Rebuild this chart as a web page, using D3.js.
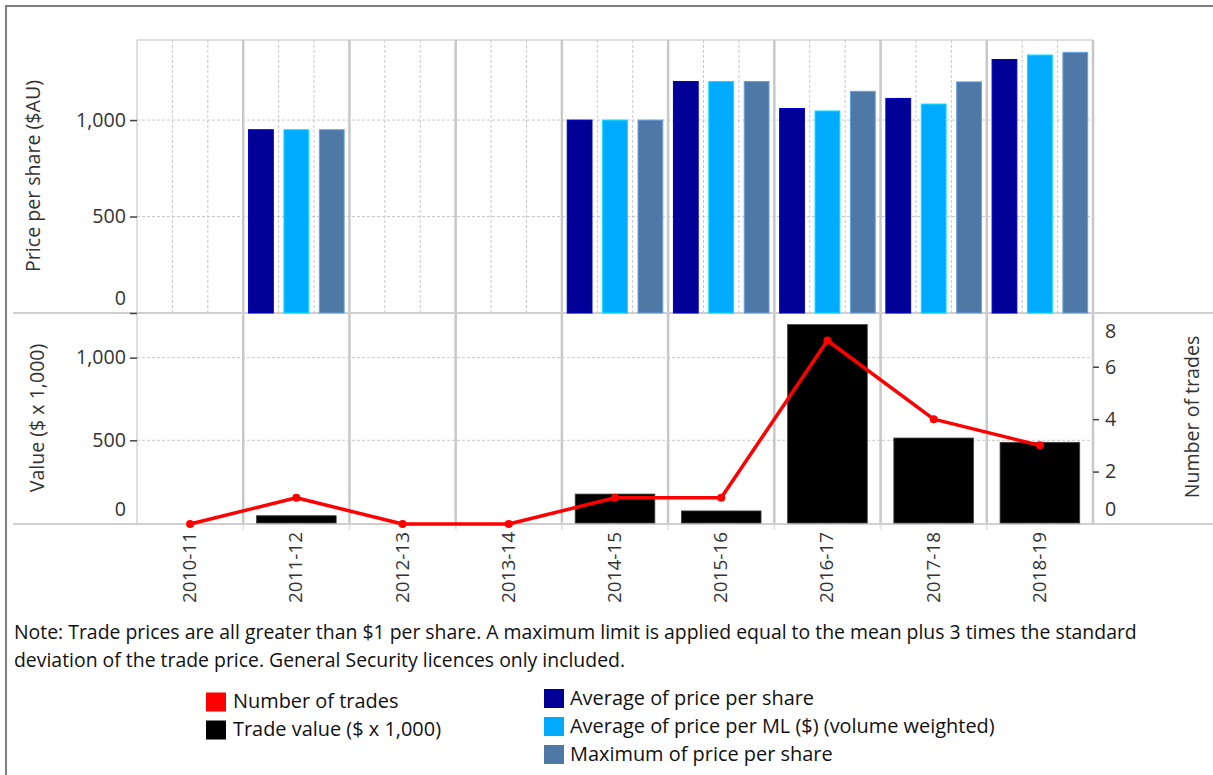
<!DOCTYPE html>
<html><head><meta charset="utf-8">
<script src="https://cdn.jsdelivr.net/npm/d3@7"></script>
<style>body{margin:0;background:#fff}svg{display:block;font-family:"Open Sans",Lato,sans-serif}</style>
</head><body><svg id="c" width="1213" height="775"></svg>
<script>
const years = ["2010-11","2011-12","2012-13","2013-14","2014-15","2015-16","2016-17","2017-18","2018-19"];
const priceSeries = ["Average of price per share","Average of price per ML ($) (volume weighted)","Maximum of price per share"];
const avgPrice    = [null, 950, null, null, 1000, 1200, 1060, 1112, 1314];
const avgPriceML  = [null, 950, null, null, 1000, 1200, 1047, 1083, 1337];
const maxPrice    = [null, 950, null, null, 1000, 1200, 1149, 1198, 1351];
const tradeValue  = [0, 44, 0, 0, 175, 73, 1200, 514, 488];
const numTrades   = [0, 1, 0, 0, 1, 1, 7, 4, 3];
const priceTicks = [0, 500, 1000];
const valueTicks = [0, 500, 1000];
const tradeTicks = [0, 2, 4, 6, 8];
const priceColors = ["#000096", "#00AAFF", "#4E79A7"];
const lineColor = "#FF0000";
const barColor = "#000000";
const legendLeft = [{label:"Number of trades", color:lineColor},{label:"Trade value ($ x 1,000)", color:barColor}];
const noteLines = ["Note: Trade prices are all greater than $1 per share. A maximum limit is applied equal to the mean plus 3 times the standard",
                   "deviation of the trade price. General Security licences only included."];

const svg = d3.select("#c");
const L = 137, R = 1093, T1 = 40, B1 = 313, B2 = 524;
const grid = "#c8c8c8", txt = "#333";

// font size fitting helper: size such that sample string spans target width
function fitSize(sample, target){
  const t = svg.append("text").style("font-size","20px").text(sample);
  const w = t.node().getComputedTextLength(); t.remove();
  return 20 * target / w;
}
const fsNote = fitSize(noteLines[0], 1123);
const fsLegend = fitSize(priceSeries[1], 425);
const fsTitle = fitSize("Price per share ($AU)", 192);
const fsTick = fitSize("1,000", 50);
const fsX = fitSize("2010-11", 71);

// frame
svg.append("line").attr("x1",5).attr("x2",1213).attr("y1",6).attr("y2",6).attr("stroke","#808080").attr("stroke-width",2);
svg.append("line").attr("x1",6).attr("x2",6).attr("y1",5).attr("y2",775).attr("stroke","#808080").attr("stroke-width",2);

const x = d3.scaleBand().domain(years).range([L, R]);
const sub = d3.scaleBand().domain(priceSeries).range([0, x.bandwidth()]).paddingInner(0.3).paddingOuter(0.15);
const yP = d3.scaleLinear().domain([0, 1415]).range([B1, T1]);
const yV = d3.scaleLinear().domain([0, 1270]).range([523, B1]);
const yN = d3.scaleLinear().domain([0, 8.05]).range([B2, B1]);

// ---- top panel grid
const g1 = svg.append("g");
years.forEach(yr => {
  [1,2].forEach(k => g1.append("line").attr("x1", x(yr)+k*x.bandwidth()/3).attr("x2", x(yr)+k*x.bandwidth()/3)
    .attr("y1", T1).attr("y2", B1).attr("stroke", grid).attr("stroke-dasharray","3,2").attr("stroke-width",1));
});
priceTicks.filter(t=>t>0).forEach(t => g1.append("line").attr("x1",L).attr("x2",R).attr("y1",yP(t)).attr("y2",yP(t))
  .attr("stroke",grid).attr("stroke-dasharray","3,2"));
g1.append("line").attr("x1",L).attr("x2",R).attr("y1",T1).attr("y2",T1).attr("stroke","#d4d4d4").attr("stroke-width",1.5);
g1.append("line").attr("x1",L).attr("x2",L).attr("y1",T1).attr("y2",B2).attr("stroke","#d4d4d4").attr("stroke-width",1.5);
years.slice(1).forEach(yr => {
  svg.append("line").attr("x1",x(yr)).attr("x2",x(yr)).attr("y1",T1).attr("y2",B2)
    .attr("stroke",grid).attr("stroke-width",2.5);
  svg.append("line").attr("x1",x(yr)).attr("x2",x(yr)).attr("y1",B2).attr("y2",B2+6)
    .attr("stroke","#e6e6e6").attr("stroke-width",2);
});
svg.append("line").attr("x1",R).attr("x2",R).attr("y1",T1).attr("y2",B2).attr("stroke",grid).attr("stroke-width",2.5);

// bottom panel grid
valueTicks.filter(t=>t>0).forEach(t => svg.append("line").attr("x1",L).attr("x2",R).attr("y1",yV(t)).attr("y2",yV(t))
  .attr("stroke",grid).attr("stroke-dasharray","3,2"));

// separators
svg.append("line").attr("x1",13).attr("x2",1213).attr("y1",B1).attr("y2",B1).attr("stroke","#cfcfcf").attr("stroke-width",2);
svg.append("line").attr("x1",13).attr("x2",1213).attr("y1",B2).attr("y2",B2).attr("stroke","#cfcfcf").attr("stroke-width",2);

// price bars
const priceData = [avgPrice, avgPriceML, maxPrice];
priceData.forEach((arr, si) => {
  svg.append("g").selectAll("rect").data(years.map((yr,i)=>({yr, v:arr[i]})).filter(d=>d.v!=null)).join("rect")
    .attr("x", d => x(d.yr) + sub(priceSeries[si]))
    .attr("width", sub.bandwidth())
    .attr("y", d => yP(d.v))
    .attr("height", d => yP(0) - yP(d.v))
    .attr("fill", priceColors[si])
    .attr("stroke", d3.color(priceColors[si]).brighter(0.8)).attr("stroke-width",1);
});

// trade value bars
const bw2 = x.bandwidth()*0.75;
svg.append("g").selectAll("rect").data(years.map((yr,i)=>({yr, v:tradeValue[i]})).filter(d=>d.v>0)).join("rect")
  .attr("x", d => x(d.yr) + (x.bandwidth()-bw2)/2)
  .attr("width", bw2)
  .attr("y", d => yV(d.v))
  .attr("height", d => yV(0) - yV(d.v))
  .attr("fill", barColor).attr("stroke","#444").attr("stroke-width",0.8);

// number of trades line
const pts = years.map((yr,i)=>({yr, v:numTrades[i]}));
svg.append("path").datum(pts)
  .attr("d", d3.line().x(d=>x(d.yr)+x.bandwidth()/2).y(d=>yN(d.v)))
  .attr("fill","none").attr("stroke",lineColor).attr("stroke-width",3.5).attr("stroke-linejoin","round");
svg.append("g").selectAll("circle").data(pts).join("circle")
  .attr("cx", d=>x(d.yr)+x.bandwidth()/2).attr("cy", d=>yN(d.v)).attr("r",4).attr("fill",lineColor);

// axes
function styleAxis(g, shifts){
  g.select(".domain").remove();
  g.selectAll(".tick line").attr("stroke","#444").attr("stroke-width",1.5);
  g.selectAll(".tick text").attr("fill",txt).style("font-size",fsTick+"px").style("font-family","Open Sans");
  g.selectAll(".tick").each(function(d){ if (shifts[d]!==undefined) d3.select(this).select("text").attr("dy", shifts[d]); });
}
const fmt = d3.format(",");
svg.append("g").attr("transform",`translate(${L},0)`)
  .call(d3.axisLeft(yP).tickValues(priceTicks).tickFormat(fmt).tickSize(7).tickPadding(4))
  .call(g=>styleAxis(g,{0:"-0.45em"}));
svg.append("g").attr("transform",`translate(${L},0)`)
  .call(d3.axisLeft(yV).tickValues(valueTicks).tickFormat(fmt).tickSize(7).tickPadding(4))
  .call(g=>styleAxis(g,{0:"-0.4em"}))
  .call(g=>g.selectAll(".tick").filter(d=>d===0).select("line").remove());
svg.append("g").attr("transform",`translate(${R},0)`)
  .call(d3.axisRight(yN).tickValues(tradeTicks).tickFormat(d3.format("d")).tickSize(6).tickPadding(6))
  .call(g=>styleAxis(g,{0:"-0.45em",8:"1.2em"}))
  .call(g=>g.selectAll(".tick").filter(d=>d===0||d===8).select("line").remove());

// x labels
svg.append("g").selectAll("text").data(years).join("text")
  .attr("transform", d => `translate(${x(d)+x.bandwidth()/2+6},${B2+8}) rotate(-90)`)
  .attr("text-anchor","end").attr("fill",txt).style("font-size",fsX+"px").text(d=>d);

// axis titles
function vtitle(t, cx, cy){
  svg.append("text").attr("transform",`translate(${cx},${cy}) rotate(-90)`).attr("text-anchor","middle")
    .attr("fill",txt).style("font-size",fsTitle+"px").text(t);
}
vtitle("Price per share ($AU)", 40, 176);
vtitle("Value ($ x 1,000)", 44, 418);
vtitle("Number of trades", 1199, 417);

// note
const note = svg.append("text").attr("fill","#111").style("font-size",fsNote+"px");
noteLines.forEach((t,i)=> note.append("tspan").attr("x",14).attr("y",639+i*28).text(t));

// legend
legendLeft.forEach((d,i) => {
  const y0 = 692.5 + i*28;
  svg.append("rect").attr("x",206).attr("y",y0).attr("width",20).attr("height",19).attr("fill",d.color);
  svg.append("text").attr("x",233).attr("y",y0+15.5).attr("fill","#111").style("font-size",fsLegend+"px").text(d.label);
});
priceSeries.forEach((s,i) => {
  const y0 = 689 + i*28;
  svg.append("rect").attr("x",544).attr("y",y0).attr("width",20).attr("height",19).attr("fill",priceColors[i]);
  svg.append("text").attr("x",570).attr("y",y0+15.5).attr("fill","#111").style("font-size",fsLegend+"px").text(s);
});
</script></body></html>
